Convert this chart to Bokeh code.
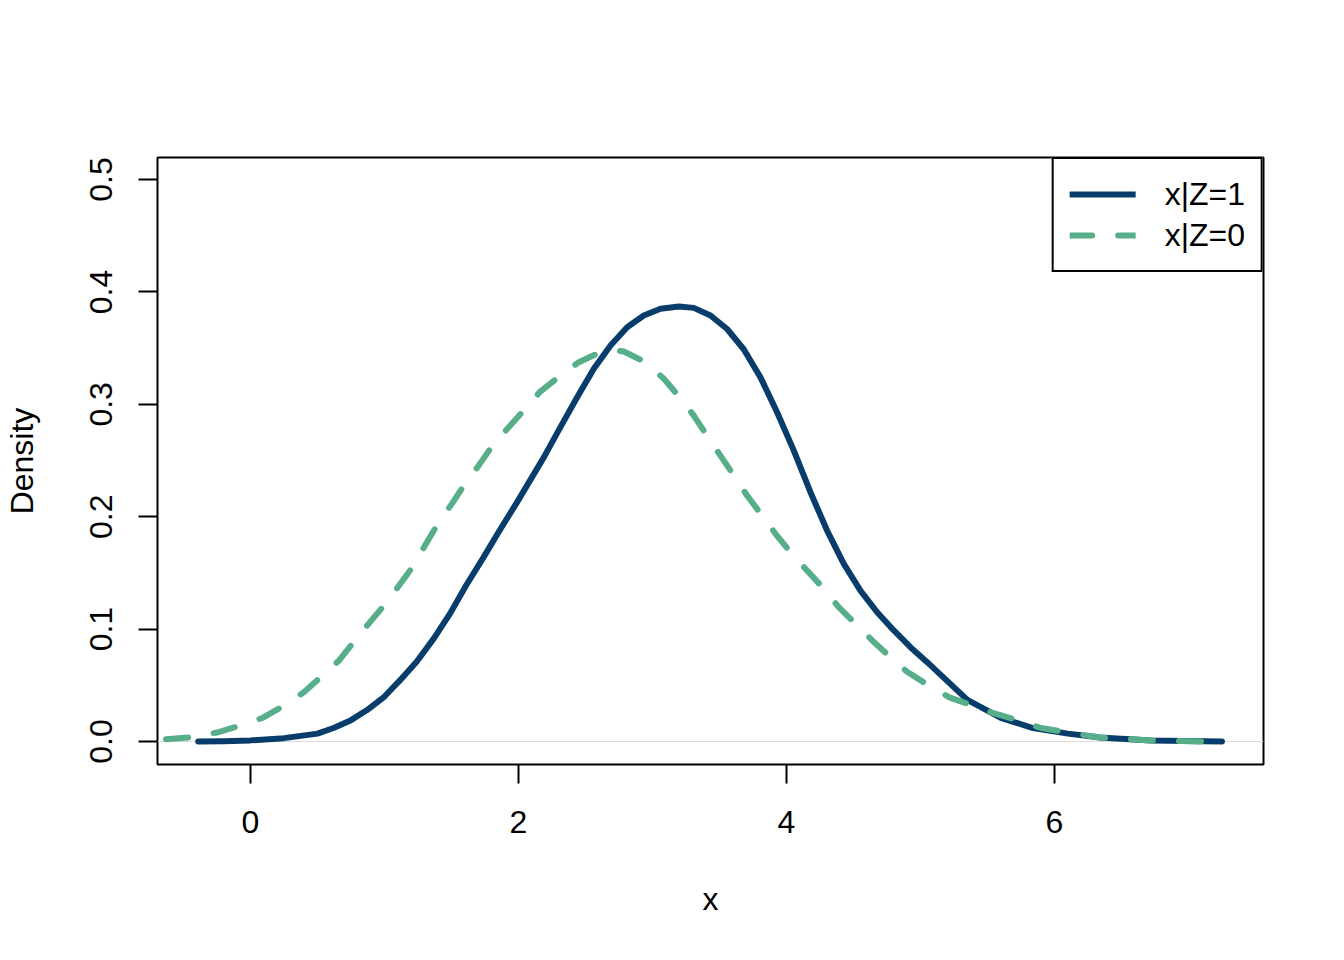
from bokeh.plotting import figure
from bokeh.models import Range1d, Legend, LegendItem, Span, FixedTicker, PrintfTickFormatter
from bokeh.embed import file_html
from bokeh.resources import INLINE

# ---- data ----
x_z1 = [-0.39, -0.2, 0.0, 0.25, 0.5, 0.62, 0.75, 0.87, 1.0, 1.12, 1.24, 1.37, 1.49, 1.61,
        1.74, 1.86, 1.99, 2.11, 2.19, 2.313, 2.438, 2.562, 2.687, 2.811, 2.935, 3.060,
        3.197, 3.308, 3.433, 3.557, 3.681, 3.806, 3.930, 4.054, 4.179, 4.303, 4.428,
        4.552, 4.677, 4.801, 4.925, 5.05, 5.35, 5.60, 5.84, 6.10, 6.34, 6.72, 7.25]
y_z1 = [0.000, 0.0003, 0.001, 0.003, 0.007, 0.012, 0.019, 0.028, 0.040, 0.055, 0.071,
        0.092, 0.114, 0.139, 0.164, 0.188, 0.213, 0.237, 0.253, 0.2797, 0.3063, 0.3316,
        0.3523, 0.3686, 0.379, 0.385, 0.387, 0.3858, 0.379, 0.367, 0.349, 0.324, 0.293,
        0.259, 0.2218, 0.1877, 0.158, 0.1343, 0.115, 0.0988, 0.0839, 0.0706, 0.037,
        0.021, 0.012, 0.007, 0.0035, 0.001, 0.000]

x_z0 = [-0.63, -0.42, -0.25, -0.08, 0.09, 0.25, 0.40, 0.53, 0.66, 0.78, 0.89, 1.01, 1.11,
        1.22, 1.30, 1.40, 1.50, 1.60, 1.70, 1.81, 1.93, 2.05, 2.16, 2.313, 2.45, 2.612,
        2.70, 2.786, 2.948, 3.085, 3.197, 3.308, 3.408, 3.507, 3.607, 3.706, 3.818,
        3.918, 4.03, 4.154, 4.279, 4.39, 4.515, 4.64, 4.776, 4.90, 5.06, 5.22, 5.39,
        5.55, 5.72, 5.90, 6.10, 6.34, 6.72, 7.14]
y_z0 = [0.002, 0.004, 0.008, 0.014, 0.021, 0.032, 0.044, 0.058, 0.072, 0.090, 0.106,
        0.123, 0.139, 0.157, 0.174, 0.194, 0.211, 0.229, 0.245, 0.264, 0.280, 0.296,
        0.311, 0.3256, 0.3375, 0.3464, 0.3485, 0.347, 0.3375, 0.3227, 0.307, 0.290,
        0.272, 0.2544, 0.2367, 0.2189, 0.201, 0.1848, 0.1684, 0.1521, 0.1358, 0.1195,
        0.1047, 0.0899, 0.075, 0.062, 0.050, 0.039, 0.032, 0.025, 0.019, 0.012, 0.008,
        0.0035, 0.001, 0.000]

labels = ["x|Z=1", "x|Z=0"]
x_ticks = [0, 2, 4, 6]
y_ticks = [0.0, 0.1, 0.2, 0.3, 0.4, 0.5]

FONT = "Liberation Sans"
C1 = "#083D6B"
C0 = "#57AF8A"

p = figure(width=1328, height=944, output_backend="svg", toolbar_location=None,
           x_range=Range1d(-0.694, 7.560), y_range=Range1d(-0.02046, 0.5196),
           min_border_left=157, min_border_right=65, min_border_top=157,
           min_border_bottom=180, x_axis_label="x", y_axis_label="Density")

p.grid.visible = False
p.outline_line_color = "black"
p.outline_line_width = 2
p.background_fill_color = "white"
p.border_fill_color = "white"

for ax in (p.xaxis, p.yaxis):
    ax.axis_line_color = None
    ax.major_tick_line_color = "black"
    ax.major_tick_line_width = 2
    ax.major_tick_out = 19
    ax.major_tick_in = 0
    ax.minor_tick_line_color = None
    ax.major_label_text_font = FONT
    ax.major_label_text_font_size = "32px"
    ax.major_label_text_color = "black"
    ax.axis_label_text_font = FONT
    ax.axis_label_text_font_size = "32px"
    ax.axis_label_text_font_style = "normal"
    ax.axis_label_text_color = "black"

p.xaxis.ticker = FixedTicker(ticks=x_ticks)
p.yaxis.ticker = FixedTicker(ticks=y_ticks)
p.yaxis.formatter = PrintfTickFormatter(format="%.1f")
p.yaxis.major_label_orientation = "vertical"
p.xaxis.major_label_standoff = 27
p.xaxis.axis_label_standoff = 45
p.yaxis.major_label_standoff = 26
p.yaxis.axis_label_standoff = 48

zero = Span(location=0, dimension="width", line_color="#d9d9d9", line_width=1,
            level="underlay")
p.add_layout(zero)

r1 = p.line(x_z1, y_z1, line_color=C1, line_width=6, line_cap="round", line_join="round")
r0 = p.line(x_z0, y_z0, line_color=C0, line_width=6, line_cap="round", line_join="round",
            line_dash="22 26")

legend = Legend(items=[LegendItem(label=labels[0], renderers=[r1]),
                       LegendItem(label=labels[1], renderers=[r0])],
                location="top_right", margin=0, padding=16, spacing=3,
                glyph_width=66, glyph_height=38, label_height=38, label_standoff=29,
                label_text_font=FONT, label_text_font_size="32px",
                label_text_color="black",
                border_line_color="black", border_line_width=2, border_line_alpha=1,
                background_fill_color="white", background_fill_alpha=1)
p.add_layout(legend)

open("out.html", "w").write(file_html(p, INLINE))
